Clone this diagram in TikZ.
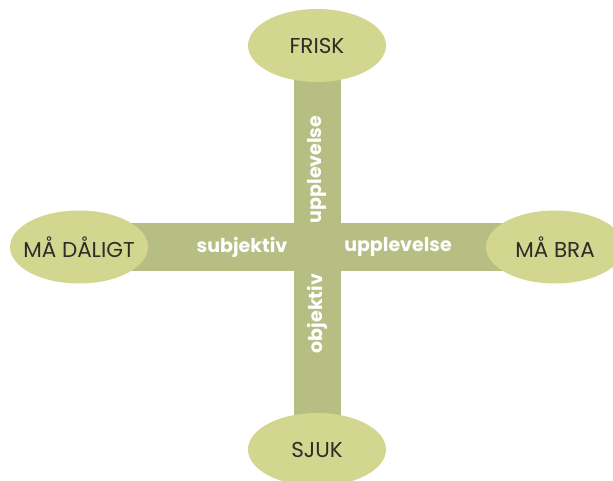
\documentclass[tikz,border=0pt]{standalone}
\usepackage{fontspec}
\setmainfont{Poppins}
\usetikzlibrary{shapes.geometric,backgrounds}
\definecolor{leaf}{RGB}{210,214,143}
\definecolor{stem}{RGB}{183,190,131}
\definecolor{ink}{RGB}{45,45,40}

\begin{document}
\begin{tikzpicture}[x=1pt,y=-1pt,
	pole/.style={ellipse,fill=leaf,minimum width=138pt,minimum height=73pt,inner xsep=-12pt,inner ysep=0pt,text=ink,font=\fontsize{21.5}{21.5}\selectfont},
	bar/.style={stem,line width=47pt},
	axis/.style={text=white,inner sep=0pt,font=\bfseries\fontsize{19}{19}\selectfont}]
			\useasboundingbox (0,0) rectangle (613,481);
			\node[pole] (frisk) at (317,45.5) {FRISK};
			\node[pole] (sjuk) at (317,449.5) {SJUK};
			\node[pole] (daligt) at (79,247) {MÅ DÅLIGT};
			\node[pole] (bra) at (555,247) {MÅ BRA};
			
			\begin{scope}[on background layer]
			\draw[bar] (frisk.center) -- (sjuk.center);
			\draw[bar] (daligt.center) -- (bra.center);
			\end{scope}
			
			\node[axis] (subj) at (242,247) {subjektiv};
			\node[axis] (uppl) at (398,247) {upplevelse};
			\node[axis,rotate=90] (upplv) at (317,169.5) {upplevelse};
			\node[axis,rotate=90] (obj) at (317,313.5) {objektiv};
\end{tikzpicture}
\end{document}
